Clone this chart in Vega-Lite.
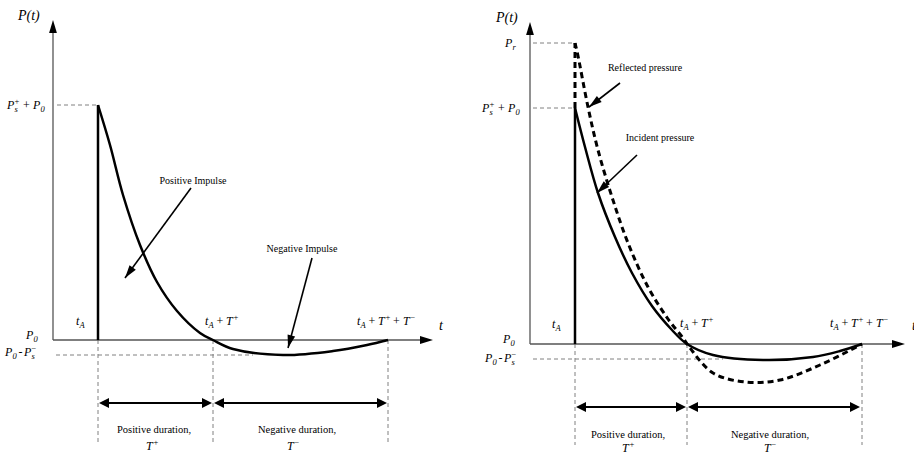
{
  "$schema": "https://vega.github.io/schema/vega-lite/v6.json",
  "background": "white",
  "padding": 0,
  "spacing": 0,
  "config": {"view": {"stroke": null}, "font": "Liberation Serif, Times New Roman, Times, serif", "text": {"font": "Liberation Serif, Times New Roman, Times, serif", "color": "black"}},
  "datasets": {
    "segs": [
      {"panel": "L", "kind": "guide", "x": 4, "y": 235, "x2": 45, "y2": 235},
      {"panel": "L", "kind": "guide", "x": 3, "y": -15, "x2": 200, "y2": -15},
      {"panel": "L", "kind": "guide", "x": 45, "y": 0, "x2": 45, "y2": -103},
      {"panel": "L", "kind": "guide", "x": 160, "y": 0, "x2": 160, "y2": -103},
      {"panel": "L", "kind": "guide", "x": 335, "y": 0, "x2": 335, "y2": -103},
      {"panel": "L", "kind": "axis", "x": 0, "y": 0, "x2": 0, "y2": 310},
      {"panel": "L", "kind": "axis", "x": 0, "y": 0, "x2": 370, "y2": 0},
      {"panel": "L", "kind": "arrival", "x": 45, "y": 0, "x2": 45, "y2": 235},
      {"panel": "L", "kind": "span", "x": 50, "y": -63, "x2": 155, "y2": -63},
      {"panel": "L", "kind": "span", "x": 165, "y": -63, "x2": 330, "y2": -63},
      {"panel": "L", "kind": "pointer", "x": 138, "y": 152, "x2": 72, "y2": 62},
      {"panel": "L", "kind": "pointer", "x": 259, "y": 82, "x2": 235, "y2": -8},
      {"panel": "R", "kind": "guide", "x": 3, "y": 301, "x2": 45, "y2": 301},
      {"panel": "R", "kind": "guide", "x": 3, "y": 236, "x2": 45, "y2": 236},
      {"panel": "R", "kind": "guide", "x": 3, "y": -15, "x2": 193, "y2": -15},
      {"panel": "R", "kind": "guide", "x": 45, "y": 0, "x2": 45, "y2": -101},
      {"panel": "R", "kind": "guide", "x": 157, "y": 0, "x2": 157, "y2": -101},
      {"panel": "R", "kind": "guide", "x": 332, "y": 0, "x2": 332, "y2": -101},
      {"panel": "R", "kind": "axis", "x": 0, "y": 0, "x2": 0, "y2": 312},
      {"panel": "R", "kind": "axis", "x": 0, "y": 0, "x2": 365, "y2": 0},
      {"panel": "R", "kind": "arrival", "x": 45, "y": 0, "x2": 45, "y2": 236},
      {"panel": "R", "kind": "jump", "x": 45, "y": 236, "x2": 45, "y2": 301},
      {"panel": "R", "kind": "span", "x": 50, "y": -63, "x2": 152, "y2": -63},
      {"panel": "R", "kind": "span", "x": 162, "y": -63, "x2": 326, "y2": -63},
      {"panel": "R", "kind": "pointer", "x": 90, "y": 261, "x2": 59, "y2": 237},
      {"panel": "R", "kind": "pointer", "x": 107, "y": 189, "x2": 67, "y2": 151}
    ],
    "heads": [
      {"panel": "L", "kind": "up", "x": 0, "y": 320},
      {"panel": "L", "kind": "right", "x": 380, "y": 0},
      {"panel": "L", "kind": "spanLeft", "x": 46, "y": -63},
      {"panel": "L", "kind": "spanRight", "x": 159, "y": -63},
      {"panel": "L", "kind": "spanLeft", "x": 161, "y": -63},
      {"panel": "L", "kind": "spanRight", "x": 334, "y": -63},
      {"panel": "L", "kind": "positive", "x": 72, "y": 62},
      {"panel": "L", "kind": "negative", "x": 235, "y": -8},
      {"panel": "R", "kind": "up", "x": 0, "y": 322},
      {"panel": "R", "kind": "right", "x": 375, "y": 0},
      {"panel": "R", "kind": "spanLeft", "x": 46, "y": -63},
      {"panel": "R", "kind": "spanRight", "x": 156, "y": -63},
      {"panel": "R", "kind": "spanLeft", "x": 158, "y": -63},
      {"panel": "R", "kind": "spanRight", "x": 330, "y": -63},
      {"panel": "R", "kind": "reflected", "x": 59, "y": 237},
      {"panel": "R", "kind": "incident", "x": 67, "y": 151}
    ],
    "curves": [
      {"series": "free", "x": 45, "y": 235},
      {"series": "free", "x": 57, "y": 195},
      {"series": "free", "x": 70, "y": 145},
      {"series": "free", "x": 87, "y": 95},
      {"series": "free", "x": 104, "y": 58},
      {"series": "free", "x": 124, "y": 29},
      {"series": "free", "x": 147, "y": 7},
      {"series": "free", "x": 160, "y": 0},
      {"series": "free", "x": 180, "y": -9},
      {"series": "free", "x": 230, "y": -15},
      {"series": "free", "x": 280, "y": -11},
      {"series": "free", "x": 314, "y": -5},
      {"series": "free", "x": 335, "y": 0},
      {"series": "incident", "x": 45, "y": 236},
      {"series": "incident", "x": 55, "y": 197},
      {"series": "incident", "x": 68, "y": 151},
      {"series": "incident", "x": 85, "y": 107},
      {"series": "incident", "x": 102, "y": 71},
      {"series": "incident", "x": 122, "y": 38},
      {"series": "incident", "x": 142, "y": 14},
      {"series": "incident", "x": 157, "y": 0},
      {"series": "incident", "x": 183, "y": -11},
      {"series": "incident", "x": 233, "y": -16},
      {"series": "incident", "x": 283, "y": -13},
      {"series": "incident", "x": 310, "y": -7},
      {"series": "incident", "x": 332, "y": 0},
      {"series": "reflected", "x": 45, "y": 301},
      {"series": "reflected", "x": 48, "y": 288},
      {"series": "reflected", "x": 58, "y": 237},
      {"series": "reflected", "x": 68, "y": 194},
      {"series": "reflected", "x": 82, "y": 147},
      {"series": "reflected", "x": 98, "y": 101},
      {"series": "reflected", "x": 118, "y": 57},
      {"series": "reflected", "x": 138, "y": 25},
      {"series": "reflected", "x": 153, "y": 6},
      {"series": "reflected", "x": 160, "y": -4},
      {"series": "reflected", "x": 183, "y": -29},
      {"series": "reflected", "x": 215, "y": -38},
      {"series": "reflected", "x": 250, "y": -36},
      {"series": "reflected", "x": 290, "y": -21},
      {"series": "reflected", "x": 332, "y": 0}
    ],
    "tokens": [
      {"panel": "L", "role": "title", "x": -35, "y": 320, "text": "P(t)"},
      {"panel": "L", "role": "title", "x": 386, "y": 10, "text": "t"},
      {"panel": "L", "role": "main", "x": -46, "y": 231, "text": "P"},
      {"panel": "L", "role": "sub", "x": -38.5, "y": 231, "text": "s"},
      {"panel": "L", "role": "sup", "x": -38.5, "y": 231, "text": "+"},
      {"panel": "L", "role": "rm", "x": -30, "y": 231, "text": "+"},
      {"panel": "L", "role": "main", "x": -20, "y": 231, "text": "P"},
      {"panel": "L", "role": "sub", "x": -12.5, "y": 231, "text": "0"},
      {"panel": "L", "role": "main", "x": -27, "y": 1, "text": "P"},
      {"panel": "L", "role": "sub", "x": -19.5, "y": 1, "text": "0"},
      {"panel": "L", "role": "main", "x": -48, "y": -16, "text": "P"},
      {"panel": "L", "role": "sub", "x": -40.5, "y": -16, "text": "0"},
      {"panel": "L", "role": "rm", "x": -34.5, "y": -16, "text": "-"},
      {"panel": "L", "role": "main", "x": -29, "y": -16, "text": "P"},
      {"panel": "L", "role": "sub", "x": -21.5, "y": -16, "text": "s"},
      {"panel": "L", "role": "sup", "x": -21.5, "y": -16, "text": "−"},
      {"panel": "L", "role": "main", "x": 23, "y": 15, "text": "t"},
      {"panel": "L", "role": "sub", "x": 26.6, "y": 15, "text": "A"},
      {"panel": "L", "role": "main", "x": 152, "y": 15, "text": "t"},
      {"panel": "L", "role": "sub", "x": 155.6, "y": 15, "text": "A"},
      {"panel": "L", "role": "rm", "x": 163.5, "y": 15, "text": "+"},
      {"panel": "L", "role": "main", "x": 173, "y": 15, "text": "T"},
      {"panel": "L", "role": "sup", "x": 180.5, "y": 15, "text": "+"},
      {"panel": "L", "role": "main", "x": 304, "y": 15, "text": "t"},
      {"panel": "L", "role": "sub", "x": 307.6, "y": 15, "text": "A"},
      {"panel": "L", "role": "rm", "x": 315.5, "y": 15, "text": "+"},
      {"panel": "L", "role": "main", "x": 325, "y": 15, "text": "T"},
      {"panel": "L", "role": "sup", "x": 332.5, "y": 15, "text": "+"},
      {"panel": "L", "role": "rm", "x": 340, "y": 15, "text": "+"},
      {"panel": "L", "role": "main", "x": 350, "y": 15, "text": "T"},
      {"panel": "L", "role": "sup", "x": 357.5, "y": 15, "text": "−"},
      {"panel": "L", "role": "note", "x": 140, "y": 159, "text": "Positive Impulse"},
      {"panel": "L", "role": "note", "x": 249, "y": 91, "text": "Negative Impulse"},
      {"panel": "L", "role": "caption", "x": 101, "y": -90, "text": "Positive duration,"},
      {"panel": "L", "role": "caption", "x": 244, "y": -90, "text": "Negative duration,"},
      {"panel": "L", "role": "main", "x": 93, "y": -110, "text": "T"},
      {"panel": "L", "role": "sup", "x": 100.5, "y": -110, "text": "+"},
      {"panel": "L", "role": "main", "x": 234, "y": -110, "text": "T"},
      {"panel": "L", "role": "sup", "x": 241.5, "y": -110, "text": "−"},
      {"panel": "R", "role": "title", "x": -34, "y": 322, "text": "P(t)"},
      {"panel": "R", "role": "title", "x": 382, "y": 14, "text": "t"},
      {"panel": "R", "role": "main", "x": -25, "y": 297, "text": "P"},
      {"panel": "R", "role": "sub", "x": -17.5, "y": 297, "text": "r"},
      {"panel": "R", "role": "main", "x": -48, "y": 232, "text": "P"},
      {"panel": "R", "role": "sub", "x": -40.5, "y": 232, "text": "s"},
      {"panel": "R", "role": "sup", "x": -40.5, "y": 232, "text": "+"},
      {"panel": "R", "role": "rm", "x": -32, "y": 232, "text": "+"},
      {"panel": "R", "role": "main", "x": -22, "y": 232, "text": "P"},
      {"panel": "R", "role": "sub", "x": -14.5, "y": 232, "text": "0"},
      {"panel": "R", "role": "main", "x": -27, "y": 1, "text": "P"},
      {"panel": "R", "role": "sub", "x": -19.5, "y": 1, "text": "0"},
      {"panel": "R", "role": "main", "x": -45, "y": -18, "text": "P"},
      {"panel": "R", "role": "sub", "x": -37.5, "y": -18, "text": "0"},
      {"panel": "R", "role": "rm", "x": -31.5, "y": -18, "text": "-"},
      {"panel": "R", "role": "main", "x": -26, "y": -18, "text": "P"},
      {"panel": "R", "role": "sub", "x": -18.5, "y": -18, "text": "s"},
      {"panel": "R", "role": "sup", "x": -18.5, "y": -18, "text": "−"},
      {"panel": "R", "role": "main", "x": 22, "y": 16, "text": "t"},
      {"panel": "R", "role": "sub", "x": 25.6, "y": 16, "text": "A"},
      {"panel": "R", "role": "main", "x": 150, "y": 17, "text": "t"},
      {"panel": "R", "role": "sub", "x": 153.6, "y": 17, "text": "A"},
      {"panel": "R", "role": "rm", "x": 161.5, "y": 17, "text": "+"},
      {"panel": "R", "role": "main", "x": 171, "y": 17, "text": "T"},
      {"panel": "R", "role": "sup", "x": 178.5, "y": 17, "text": "+"},
      {"panel": "R", "role": "main", "x": 300, "y": 17, "text": "t"},
      {"panel": "R", "role": "sub", "x": 303.6, "y": 17, "text": "A"},
      {"panel": "R", "role": "rm", "x": 311.5, "y": 17, "text": "+"},
      {"panel": "R", "role": "main", "x": 321, "y": 17, "text": "T"},
      {"panel": "R", "role": "sup", "x": 328.5, "y": 17, "text": "+"},
      {"panel": "R", "role": "rm", "x": 336, "y": 17, "text": "+"},
      {"panel": "R", "role": "main", "x": 346, "y": 17, "text": "T"},
      {"panel": "R", "role": "sup", "x": 353.5, "y": 17, "text": "−"},
      {"panel": "R", "role": "note", "x": 115, "y": 276, "text": "Reflected pressure"},
      {"panel": "R", "role": "note", "x": 130, "y": 206, "text": "Incident pressure"},
      {"panel": "R", "role": "caption", "x": 98, "y": -91, "text": "Positive duration,"},
      {"panel": "R", "role": "caption", "x": 240, "y": -91, "text": "Negative duration,"},
      {"panel": "R", "role": "main", "x": 92, "y": -108, "text": "T"},
      {"panel": "R", "role": "sup", "x": 99.5, "y": -108, "text": "+"},
      {"panel": "R", "role": "main", "x": 234, "y": -108, "text": "T"},
      {"panel": "R", "role": "sup", "x": 241.5, "y": -108, "text": "−"}
    ]
  },
  "hconcat": [
    {
      "width": 457,
      "height": 455,
      "encoding": {
        "x": {"field": "x", "type": "quantitative", "scale": {"domain": [-53, 404], "nice": false, "zero": false}, "axis": null},
        "y": {"field": "y", "type": "quantitative", "scale": {"domain": [-115, 340], "nice": false, "zero": false}, "axis": null}
      },
      "layer": [
        {"data": {"name": "segs"}, "transform": [{"filter": "datum.panel === 'L' && datum.kind === 'guide'"}],
         "mark": {"type": "rule", "color": "#808080", "strokeWidth": 1, "strokeDash": [4, 3]},
         "encoding": {"x2": {"field": "x2"}, "y2": {"field": "y2"}}},
        {"data": {"name": "segs"}, "transform": [{"filter": "datum.panel === 'L' && datum.kind === 'axis'"}],
         "mark": {"type": "rule", "color": "#555555", "strokeWidth": 1.3},
         "encoding": {"x2": {"field": "x2"}, "y2": {"field": "y2"}}},
        {"data": {"name": "segs"}, "transform": [{"filter": "datum.panel === 'L' && datum.kind === 'arrival'"}],
         "mark": {"type": "rule", "color": "black", "strokeWidth": 2.5},
         "encoding": {"x2": {"field": "x2"}, "y2": {"field": "y2"}}},
        {"data": {"name": "curves"}, "transform": [{"filter": "datum.series === 'free'"}],
         "mark": {"type": "line", "color": "black", "strokeWidth": 2.5, "interpolate": "catmull-rom", "clip": true},
         "encoding": {}},
        {"data": {"name": "segs"}, "transform": [{"filter": "datum.panel === 'L' && datum.kind === 'span'"}],
         "mark": {"type": "rule", "color": "black", "strokeWidth": 2},
         "encoding": {"x2": {"field": "x2"}, "y2": {"field": "y2"}}},
        {"data": {"name": "segs"}, "transform": [{"filter": "datum.panel === 'L' && datum.kind === 'pointer'"}],
         "mark": {"type": "rule", "color": "black", "strokeWidth": 1.6},
         "encoding": {"x2": {"field": "x2"}, "y2": {"field": "y2"}}},
        {"data": {"name": "heads"}, "transform": [{"filter": "datum.panel === 'L' && datum.kind === 'up'"}],
         "mark": {"type": "point", "shape": "M0,0L-0.6,2L0.6,2Z", "filled": true, "size": 169, "angle": 0, "color": "black", "opacity": 1, "strokeWidth": 0}},
        {"data": {"name": "heads"}, "transform": [{"filter": "datum.panel === 'L' && datum.kind === 'right'"}],
         "mark": {"type": "point", "shape": "M0,0L-0.6,2L0.6,2Z", "filled": true, "size": 169, "angle": 90, "color": "black", "opacity": 1, "strokeWidth": 0}},
        {"data": {"name": "heads"}, "transform": [{"filter": "datum.panel === 'L' && datum.kind === 'spanLeft'"}],
         "mark": {"type": "point", "shape": "M0,0L-0.5,1L0.5,1Z", "filled": true, "size": 400, "angle": -90, "color": "black", "opacity": 1, "strokeWidth": 0}},
        {"data": {"name": "heads"}, "transform": [{"filter": "datum.panel === 'L' && datum.kind === 'spanRight'"}],
         "mark": {"type": "point", "shape": "M0,0L-0.5,1L0.5,1Z", "filled": true, "size": 400, "angle": 90, "color": "black", "opacity": 1, "strokeWidth": 0}},
        {"data": {"name": "heads"}, "transform": [{"filter": "datum.panel === 'L' && datum.kind === 'positive'"}],
         "mark": {"type": "point", "shape": "M0,0L-0.6,2L0.6,2Z", "filled": true, "size": 169, "angle": -143.75, "color": "black", "opacity": 1, "strokeWidth": 0}},
        {"data": {"name": "heads"}, "transform": [{"filter": "datum.panel === 'L' && datum.kind === 'negative'"}],
         "mark": {"type": "point", "shape": "M0,0L-0.6,2L0.6,2Z", "filled": true, "size": 169, "angle": -165, "color": "black", "opacity": 1, "strokeWidth": 0}},
        {"data": {"name": "tokens"}, "transform": [{"filter": "datum.panel === 'L' && datum.role === 'title'"}],
         "mark": {"type": "text", "font": "Liberation Serif, Times New Roman, Times, serif", "align": "left", "baseline": "alphabetic", "fontSize": 14, "fontStyle": "italic", "clip": true},
         "encoding": {"text": {"field": "text"}}},
        {"data": {"name": "tokens"}, "transform": [{"filter": "datum.panel === 'L' && datum.role === 'main'"}],
         "mark": {"type": "text", "font": "Liberation Serif, Times New Roman, Times, serif", "align": "left", "baseline": "alphabetic", "fontSize": 12, "fontStyle": "italic", "clip": true},
         "encoding": {"text": {"field": "text"}}},
        {"data": {"name": "tokens"}, "transform": [{"filter": "datum.panel === 'L' && datum.role === 'rm'"}],
         "mark": {"type": "text", "font": "Liberation Serif, Times New Roman, Times, serif", "align": "left", "baseline": "alphabetic", "fontSize": 12, "clip": true},
         "encoding": {"text": {"field": "text"}}},
        {"data": {"name": "tokens"}, "transform": [{"filter": "datum.panel === 'L' && datum.role === 'sub'"}],
         "mark": {"type": "text", "font": "Liberation Serif, Times New Roman, Times, serif", "align": "left", "baseline": "alphabetic", "fontSize": 8.5, "fontStyle": "italic", "dy": 3, "clip": true},
         "encoding": {"text": {"field": "text"}}},
        {"data": {"name": "tokens"}, "transform": [{"filter": "datum.panel === 'L' && datum.role === 'sup'"}],
         "mark": {"type": "text", "font": "Liberation Serif, Times New Roman, Times, serif", "align": "left", "baseline": "alphabetic", "fontSize": 8.5, "dy": -5, "clip": true},
         "encoding": {"text": {"field": "text"}}},
        {"data": {"name": "tokens"}, "transform": [{"filter": "datum.panel === 'L' && datum.role === 'note'"}],
         "mark": {"type": "text", "font": "Liberation Serif, Times New Roman, Times, serif", "align": "center", "baseline": "middle", "fontSize": 10, "clip": true},
         "encoding": {"text": {"field": "text"}}},
        {"data": {"name": "tokens"}, "transform": [{"filter": "datum.panel === 'L' && datum.role === 'caption'"}],
         "mark": {"type": "text", "font": "Liberation Serif, Times New Roman, Times, serif", "align": "center", "baseline": "middle", "fontSize": 10.5, "clip": true},
         "encoding": {"text": {"field": "text"}}}
      ]
    },
    {
      "width": 457,
      "height": 455,
      "encoding": {
        "x": {"field": "x", "type": "quantitative", "scale": {"domain": [-73, 384], "nice": false, "zero": false}, "axis": null},
        "y": {"field": "y", "type": "quantitative", "scale": {"domain": [-111, 344], "nice": false, "zero": false}, "axis": null}
      },
      "layer": [
        {"data": {"name": "segs"}, "transform": [{"filter": "datum.panel === 'R' && datum.kind === 'guide'"}],
         "mark": {"type": "rule", "color": "#808080", "strokeWidth": 1, "strokeDash": [4, 3]},
         "encoding": {"x2": {"field": "x2"}, "y2": {"field": "y2"}}},
        {"data": {"name": "segs"}, "transform": [{"filter": "datum.panel === 'R' && datum.kind === 'axis'"}],
         "mark": {"type": "rule", "color": "#555555", "strokeWidth": 1.3},
         "encoding": {"x2": {"field": "x2"}, "y2": {"field": "y2"}}},
        {"data": {"name": "segs"}, "transform": [{"filter": "datum.panel === 'R' && datum.kind === 'arrival'"}],
         "mark": {"type": "rule", "color": "black", "strokeWidth": 2.5},
         "encoding": {"x2": {"field": "x2"}, "y2": {"field": "y2"}}},
        {"data": {"name": "segs"}, "transform": [{"filter": "datum.panel === 'R' && datum.kind === 'jump'"}],
         "mark": {"type": "rule", "color": "black", "strokeWidth": 3, "strokeDash": [6, 4]},
         "encoding": {"x2": {"field": "x2"}, "y2": {"field": "y2"}}},
        {"data": {"name": "curves"}, "transform": [{"filter": "datum.series === 'reflected'"}],
         "mark": {"type": "line", "color": "black", "strokeWidth": 3, "strokeDash": [6, 4], "interpolate": "catmull-rom", "clip": true},
         "encoding": {}},
        {"data": {"name": "curves"}, "transform": [{"filter": "datum.series === 'incident'"}],
         "mark": {"type": "line", "color": "black", "strokeWidth": 2.5, "interpolate": "catmull-rom", "clip": true},
         "encoding": {}},
        {"data": {"name": "segs"}, "transform": [{"filter": "datum.panel === 'R' && datum.kind === 'span'"}],
         "mark": {"type": "rule", "color": "black", "strokeWidth": 2},
         "encoding": {"x2": {"field": "x2"}, "y2": {"field": "y2"}}},
        {"data": {"name": "segs"}, "transform": [{"filter": "datum.panel === 'R' && datum.kind === 'pointer'"}],
         "mark": {"type": "rule", "color": "black", "strokeWidth": 1.6},
         "encoding": {"x2": {"field": "x2"}, "y2": {"field": "y2"}}},
        {"data": {"name": "heads"}, "transform": [{"filter": "datum.panel === 'R' && datum.kind === 'up'"}],
         "mark": {"type": "point", "shape": "M0,0L-0.6,2L0.6,2Z", "filled": true, "size": 169, "angle": 0, "color": "black", "opacity": 1, "strokeWidth": 0}},
        {"data": {"name": "heads"}, "transform": [{"filter": "datum.panel === 'R' && datum.kind === 'right'"}],
         "mark": {"type": "point", "shape": "M0,0L-0.6,2L0.6,2Z", "filled": true, "size": 169, "angle": 90, "color": "black", "opacity": 1, "strokeWidth": 0}},
        {"data": {"name": "heads"}, "transform": [{"filter": "datum.panel === 'R' && datum.kind === 'spanLeft'"}],
         "mark": {"type": "point", "shape": "M0,0L-0.5,1L0.5,1Z", "filled": true, "size": 400, "angle": -90, "color": "black", "opacity": 1, "strokeWidth": 0}},
        {"data": {"name": "heads"}, "transform": [{"filter": "datum.panel === 'R' && datum.kind === 'spanRight'"}],
         "mark": {"type": "point", "shape": "M0,0L-0.5,1L0.5,1Z", "filled": true, "size": 400, "angle": 90, "color": "black", "opacity": 1, "strokeWidth": 0}},
        {"data": {"name": "heads"}, "transform": [{"filter": "datum.panel === 'R' && datum.kind === 'reflected'"}],
         "mark": {"type": "point", "shape": "M0,0L-0.6,2L0.6,2Z", "filled": true, "size": 169, "angle": -127.75, "color": "black", "opacity": 1, "strokeWidth": 0}},
        {"data": {"name": "heads"}, "transform": [{"filter": "datum.panel === 'R' && datum.kind === 'incident'"}],
         "mark": {"type": "point", "shape": "M0,0L-0.6,2L0.6,2Z", "filled": true, "size": 169, "angle": -133.5, "color": "black", "opacity": 1, "strokeWidth": 0}},
        {"data": {"name": "tokens"}, "transform": [{"filter": "datum.panel === 'R' && datum.role === 'title'"}],
         "mark": {"type": "text", "font": "Liberation Serif, Times New Roman, Times, serif", "align": "left", "baseline": "alphabetic", "fontSize": 14, "fontStyle": "italic", "clip": true},
         "encoding": {"text": {"field": "text"}}},
        {"data": {"name": "tokens"}, "transform": [{"filter": "datum.panel === 'R' && datum.role === 'main'"}],
         "mark": {"type": "text", "font": "Liberation Serif, Times New Roman, Times, serif", "align": "left", "baseline": "alphabetic", "fontSize": 12, "fontStyle": "italic", "clip": true},
         "encoding": {"text": {"field": "text"}}},
        {"data": {"name": "tokens"}, "transform": [{"filter": "datum.panel === 'R' && datum.role === 'rm'"}],
         "mark": {"type": "text", "font": "Liberation Serif, Times New Roman, Times, serif", "align": "left", "baseline": "alphabetic", "fontSize": 12, "clip": true},
         "encoding": {"text": {"field": "text"}}},
        {"data": {"name": "tokens"}, "transform": [{"filter": "datum.panel === 'R' && datum.role === 'sub'"}],
         "mark": {"type": "text", "font": "Liberation Serif, Times New Roman, Times, serif", "align": "left", "baseline": "alphabetic", "fontSize": 8.5, "fontStyle": "italic", "dy": 3, "clip": true},
         "encoding": {"text": {"field": "text"}}},
        {"data": {"name": "tokens"}, "transform": [{"filter": "datum.panel === 'R' && datum.role === 'sup'"}],
         "mark": {"type": "text", "font": "Liberation Serif, Times New Roman, Times, serif", "align": "left", "baseline": "alphabetic", "fontSize": 8.5, "dy": -5, "clip": true},
         "encoding": {"text": {"field": "text"}}},
        {"data": {"name": "tokens"}, "transform": [{"filter": "datum.panel === 'R' && datum.role === 'note'"}],
         "mark": {"type": "text", "font": "Liberation Serif, Times New Roman, Times, serif", "align": "center", "baseline": "middle", "fontSize": 10, "clip": true},
         "encoding": {"text": {"field": "text"}}},
        {"data": {"name": "tokens"}, "transform": [{"filter": "datum.panel === 'R' && datum.role === 'caption'"}],
         "mark": {"type": "text", "font": "Liberation Serif, Times New Roman, Times, serif", "align": "center", "baseline": "middle", "fontSize": 10.5, "clip": true},
         "encoding": {"text": {"field": "text"}}}
      ]
    }
  ]
}
